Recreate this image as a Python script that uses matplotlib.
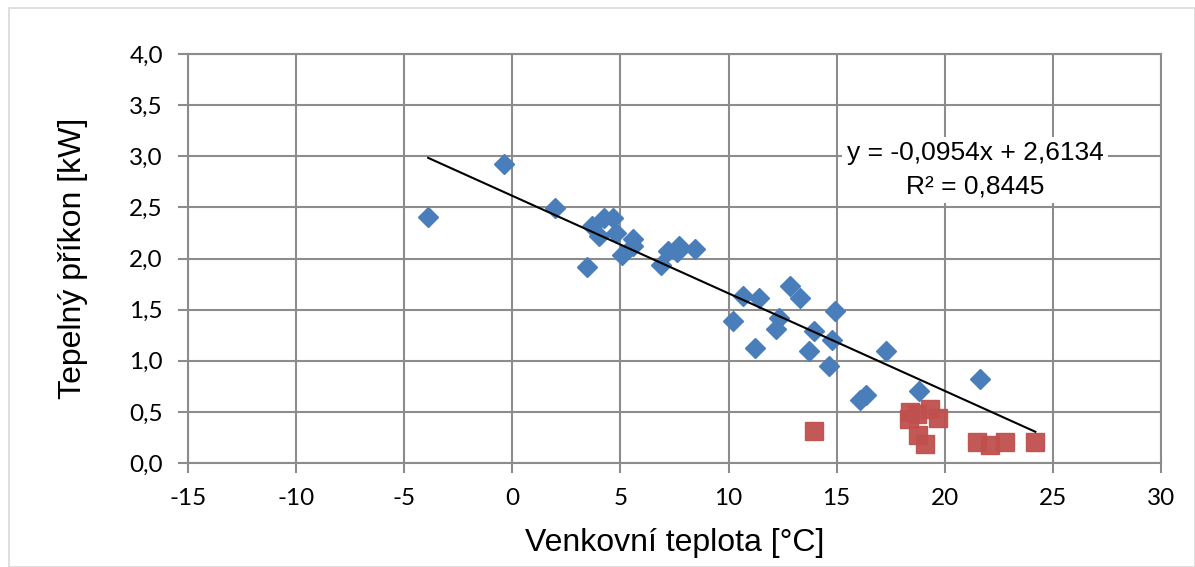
import numpy as np
import matplotlib
matplotlib.use("Agg")
import matplotlib.pyplot as plt
from matplotlib.patches import Rectangle

blue_x = [-3.89, -0.37, 1.99, 3.47, 3.70, 4.02, 4.26, 4.67, 4.81, 5.09, 5.60, 5.60,
          6.89, 7.22, 7.60, 7.72, 8.46,
          10.69, 11.43, 12.86, 13.32, 10.22, 12.35, 12.21, 14.94, 13.97, 14.80,
          11.24, 13.74, 17.30, 14.66, 16.37, 16.10, 18.83, 21.65]
blue_y = [2.41, 2.92, 2.49, 1.92, 2.32, 2.22, 2.40, 2.40, 2.25, 2.03, 2.19, 2.12,
          1.94, 2.07, 2.06, 2.12, 2.09,
          1.63, 1.61, 1.73, 1.61, 1.39, 1.42, 1.31, 1.49, 1.29, 1.20,
          1.12, 1.10, 1.10, 0.95, 0.67, 0.62, 0.70, 0.82]

red_x = [13.97, 18.41, 18.36, 18.70, 19.33, 19.70, 18.78, 19.10, 21.50, 22.10, 22.80, 24.19]
red_y = [0.31, 0.50, 0.43, 0.48, 0.53, 0.44, 0.27, 0.19, 0.21, 0.18, 0.21, 0.21]

slope = -0.0954
intercept = 2.6134
r2 = 0.8445

x_ticks = [-15, -10, -5, 0, 5, 10, 15, 20, 25, 30]
y_ticks = [0.0, 0.5, 1.0, 1.5, 2.0, 2.5, 3.0, 3.5, 4.0]

plt.rcParams['font.family'] = ['Lato', 'DejaVu Sans']
narrow = ['Liberation Sans Narrow', 'Liberation Sans', 'DejaVu Sans']

fig = plt.figure(figsize=(11.95, 5.67), dpi=100)
ax = fig.add_axes([0.1573, 0.1834, 0.8142, 0.7213])

fig.patches.append(Rectangle((9 / 1195, 0), 1 - 9 / 1195, 1 - 8 / 567,
                             transform=fig.transFigure, fill=False,
                             edgecolor='#d9d9d9', lw=1.2))

grid_c = '#8c8c8c'
ax.set_axisbelow(True)
ax.grid(True, color=grid_c, lw=1.5)

ax.plot(blue_x, blue_y, 'D', ms=10, color='#4a7ebb', mec='#4a7ebb', zorder=3)
ax.plot(red_x, red_y, 's', ms=13.5, color='#c0504d', mec='#c0504d', alpha=0.95, zorder=3)

tx = np.array([min(blue_x + red_x), max(blue_x + red_x)])
ax.plot(tx, slope * tx + intercept, color='black', lw=1.5, zorder=4)

ax.set_xlim(-15, 30)
ax.set_ylim(0, 4)
ax.set_xticks(x_ticks)
ax.set_yticks(y_ticks)
ax.set_xticklabels([str(t) for t in x_ticks])
ax.set_yticklabels([('%.1f' % t).replace('.', ',') for t in y_ticks])
ax.tick_params(axis='both', colors=grid_c, labelcolor='black', labelsize=17.5,
               length=7, width=1.5, pad=11)
for s in ax.spines.values():
    s.set_color(grid_c)
    s.set_linewidth(1.5)

ax.set_xlabel('Venkovní teplota [°C]', family=narrow, fontsize=23, labelpad=14)
ax.set_ylabel('Tepelný příkon [kW]', family=narrow, fontsize=23, labelpad=30)

eq = ('y = %.4fx + %.4f' % (slope, intercept)).replace('.', ',')
r2txt = ('R² = %.4f' % r2).replace('.', ',')
ax.text(21.4, 2.87, eq + '\n' + r2txt, family=narrow, fontsize=19,
        ha='center', va='center', linespacing=1.5, zorder=5,
        bbox=dict(facecolor='white', edgecolor='none', pad=3))

fig.savefig('out.png', dpi=100)
